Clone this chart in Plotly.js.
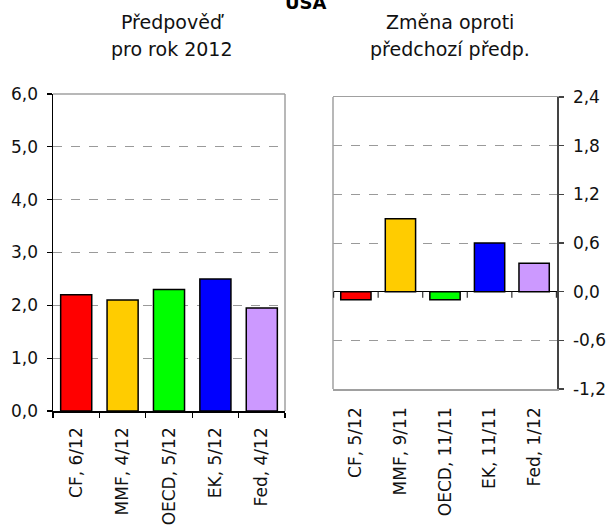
<!DOCTYPE html>
<html>
<head>
<meta charset="utf-8">
<script src="https://cdn.plot.ly/plotly-3.0.1.min.js"></script>
<style>html,body{margin:0;padding:0;background:#fff;}#chart{width:611px;height:528px;}</style>
</head>
<body>
<div id="chart"></div>
<script>
// ---- data ----
var leftCategories = ["CF, 6/12", "MMF, 4/12", "OECD, 5/12", "EK, 5/12", "Fed, 4/12"];
var leftValues = [2.2, 2.1, 2.3, 2.5, 1.95];
var rightCategories = ["CF, 5/12", "MMF, 9/11", "OECD, 11/11", "EK, 11/11", "Fed, 1/12"];
var rightValues = [-0.1, 0.9, -0.1, 0.6, 0.35];
var barColors = ["#FF0000", "#FFCC00", "#00FF00", "#0000FF", "#CC99FF"];
var leftTickVals = [0, 1, 2, 3, 4, 5, 6];
var leftTickText = ["0,0", "1,0", "2,0", "3,0", "4,0", "5,0", "6,0"];
var rightTickVals = [-1.2, -0.6, 0, 0.6, 1.2, 1.8, 2.4];
var rightTickText = ["-1,2", "-0,6", "0,0", "0,6", "1,2", "1,8", "2,4"];
var mainTitle = "USA";
var leftTitle = ["Předpověď", "pro rok 2012"];
var rightTitle = ["Změna oproti", "předchozí předp."];

// ---- layout helpers ----
var W = 611, H = 528;
function px(x) { return x / W; }
function py(y) { return 1 - y / H; }
var FONT = "DejaVu Sans, Verdana, sans-serif";
var GRID = "#9a9a9a";
var BORDER = "#a0a0a0";

var traces = [
  {
    type: "bar", x: leftCategories, y: leftValues, xaxis: "x", yaxis: "y",
    width: 0.67,
    marker: { color: barColors, line: { color: "#000", width: 1.5 } },
    hoverinfo: "none", showlegend: false
  },
  {
    type: "bar", x: rightCategories, y: rightValues, xaxis: "x2", yaxis: "y2",
    width: 0.68,
    marker: { color: barColors, line: { color: "#000", width: 1.5 } },
    hoverinfo: "none", showlegend: false
  }
];

var shapes = [
  // left plot top & right gray border
  { type: "line", xref: "x domain", yref: "y domain", x0: 0, x1: 1, y0: 1, y1: 1, line: { color: BORDER, width: 1.5 } },
  { type: "line", xref: "x domain", yref: "y domain", x0: 1, x1: 1, y0: 0, y1: 1, line: { color: BORDER, width: 1.5 } },
  // right plot left gray border
  { type: "line", xref: "x2 domain", yref: "y2 domain", x0: 0, x1: 0, y0: 0, y1: 1, line: { color: BORDER, width: 1.5 } }
];
// small ticks on the zero line of the right plot at category boundaries
for (var i = 0; i <= rightCategories.length; i++) {
  shapes.push({
    type: "line", xref: "x2", yref: "y2", x0: i - 0.5, x1: i - 0.5,
    ysizemode: "pixel", yanchor: 0, y0: 0, y1: -6,
    line: { color: "#333", width: 1.2 }
  });
}

var titleFont = { family: FONT, size: 19, color: "#111" };
var annotations = [
  { text: "<b>" + mainTitle + "</b>", xref: "paper", yref: "paper", x: px(306), y: py(15), xanchor: "center", yanchor: "bottom", showarrow: false, font: { family: FONT, size: 18, color: "#000" } },
  { text: leftTitle[0], xref: "paper", yref: "paper", x: px(172), y: py(22), xanchor: "center", yanchor: "middle", showarrow: false, font: titleFont },
  { text: leftTitle[1], xref: "paper", yref: "paper", x: px(172), y: py(49), xanchor: "center", yanchor: "middle", showarrow: false, font: titleFont },
  { text: rightTitle[0], xref: "paper", yref: "paper", x: px(450), y: py(22), xanchor: "center", yanchor: "middle", showarrow: false, font: titleFont },
  { text: rightTitle[1], xref: "paper", yref: "paper", x: px(450), y: py(49), xanchor: "center", yanchor: "middle", showarrow: false, font: titleFont }
];

var tickFont = { family: FONT, size: 17, color: "#111" };

var layout = {
  width: W, height: H,
  margin: { l: 0, r: 0, t: 0, b: 0, pad: 0 },
  paper_bgcolor: "#fff", plot_bgcolor: "#fff",
  showlegend: false,
  separators: ", ",
  xaxis: {
    domain: [px(53), px(285)], anchor: "y",
    type: "category", tickangle: -90, tickfont: tickFont,
    showline: true, linecolor: "#000", linewidth: 1.5,
    ticks: "outside", tickson: "boundaries", ticklen: 5, tickcolor: "#000", tickwidth: 1.2,
    ticklabelstandoff: 8,
    showgrid: false, zeroline: false, fixedrange: true
  },
  yaxis: {
    domain: [py(411), py(94)], anchor: "x",
    range: [0, 6], tickvals: leftTickVals, ticktext: leftTickText, tickfont: tickFont,
    showline: true, linecolor: "#000", linewidth: 1.5,
    ticks: "outside", ticklen: 5, tickcolor: "#000", tickwidth: 1.2,
    ticklabelstandoff: 5,
    showgrid: true, gridcolor: GRID, griddash: "dash", gridwidth: 1,
    zeroline: false, fixedrange: true
  },
  xaxis2: {
    domain: [px(333), px(557)], anchor: "y2",
    type: "category", tickangle: -90, tickfont: tickFont,
    showline: true, linecolor: BORDER, linewidth: 1.5, mirror: true,
    ticks: "", ticklabelstandoff: 10,
    showgrid: false, zeroline: false, fixedrange: true
  },
  yaxis2: {
    domain: [py(389), py(97)], anchor: "x2", side: "right",
    range: [-1.2, 2.4], tickvals: rightTickVals, ticktext: rightTickText, tickfont: tickFont,
    showline: true, linecolor: "#444", linewidth: 1.5,
    ticks: "outside", ticklen: 5, tickcolor: "#444", tickwidth: 1.2,
    ticklabelstandoff: 6,
    showgrid: true, gridcolor: GRID, griddash: "dash", gridwidth: 1,
    zeroline: true, zerolinecolor: "#000", zerolinewidth: 1.5, fixedrange: true
  },
  shapes: shapes,
  annotations: annotations
};

Plotly.newPlot("chart", traces, layout, { displayModeBar: false, staticPlot: true });
</script>
</body>
</html>
